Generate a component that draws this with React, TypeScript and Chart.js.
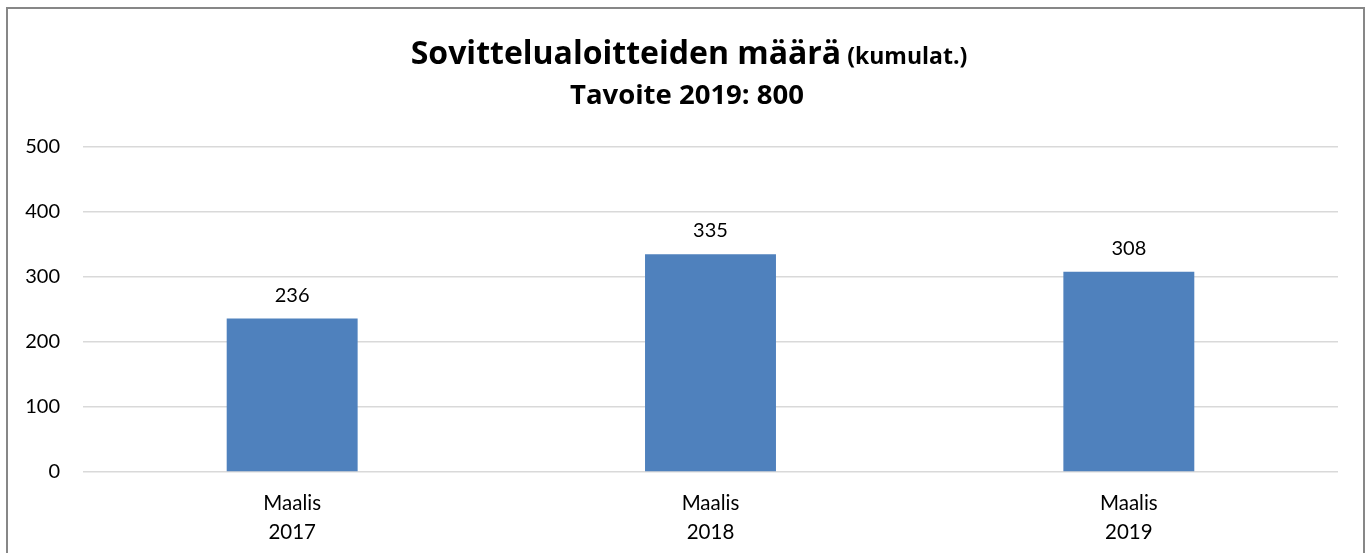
import React, { useEffect, useRef } from "react";
import { Chart, registerables } from "chart.js";

Chart.register(...registerables);

const categories: string[][] = [["Maalis", "2017"], ["Maalis", "2018"], ["Maalis", "2019"]];
const values: number[] = [236, 335, 308];
const titleMain = "Sovittelualoitteiden määrä";
const titleSuffix = " (kumulat.)";
const subtitle = "Tavoite 2019: 800";
const yMin = 0;
const yMax = 500;
const yStep = 100;

const FONT = "Lato, 'Open Sans', sans-serif";
const TFONT = "'Open Sans', Lato, sans-serif";

const framePlugin = {
  id: "frameAndTitle",
  beforeDraw(chart: any) {
    const ctx = chart.ctx;
    ctx.save();
    ctx.fillStyle = "#ffffff";
    ctx.fillRect(0, 0, chart.width, chart.height);
    ctx.strokeStyle = "#878787";
    ctx.lineWidth = 2;
    ctx.strokeRect(7, 8, 1357, 600);
    ctx.restore();
  },
  afterDraw(chart: any) {
    const ctx = chart.ctx;
    ctx.save();
    ctx.fillStyle = "#000000";
    ctx.textBaseline = "alphabetic";
    const cx = 689;
    ctx.font = `bold 32px ${TFONT}`;
    const w1 = ctx.measureText(titleMain).width;
    ctx.font = `bold 23px ${TFONT}`;
    const w2 = ctx.measureText(titleSuffix).width;
    const start = cx - (w1 + w2) / 2;
    ctx.textAlign = "left";
    ctx.font = `bold 32px ${TFONT}`;
    ctx.fillText(titleMain, start, 64);
    ctx.font = `bold 23px ${TFONT}`;
    ctx.fillText(titleSuffix, start + w1, 64);
    ctx.textAlign = "center";
    ctx.font = `bold 27.5px ${TFONT}`;
    ctx.fillText(subtitle, 687, 104);

    // data labels
    const meta = chart.getDatasetMeta(0);
    ctx.font = `20px ${FONT}`;
    ctx.textAlign = "center";
    meta.data.forEach((bar: any, i: number) => {
      ctx.fillText(String(chart.data.datasets[0].data[i]), bar.x, bar.y - 17);
    });
    ctx.restore();
  },
};

export default function App() {
  const ref = useRef<HTMLCanvasElement>(null);
  useEffect(() => {
    if (!ref.current) return;
    const chart = new Chart(ref.current, {
      type: "bar",
      data: {
        labels: categories,
        datasets: [
          {
            data: values,
            backgroundColor: "#4F81BD",
            borderWidth: 0,
            barPercentage: 0.313,
            categoryPercentage: 1,
          },
        ],
      },
      options: {
        animation: false,
        responsive: false,
        maintainAspectRatio: false,
        layout: { padding: { left: 0, right: 33, top: 147, bottom: 0 } },
        plugins: { legend: { display: false }, tooltip: { enabled: false }, title: { display: false } },
        scales: {
          x: {
            grid: { display: false },
            border: { display: false },
            ticks: {
              color: "#000",
              font: { family: FONT, size: 20.5, lineHeight: 1.42 },
              padding: 9,
              maxRotation: 0,
            },
            afterFit: (s: any) => {
              s.height = 81;
            },
          },
          y: {
            min: yMin,
            max: yMax,
            grid: { color: "#d9d9d9", lineWidth: 1.5, drawTicks: false },
            border: { display: false },
            ticks: { stepSize: yStep, color: "#000", font: { family: FONT, size: 20 }, padding: 23 },
            afterFit: (s: any) => {
              s.width = 83;
            },
          },
        },
      },
      plugins: [framePlugin],
    });
    return () => chart.destroy();
  }, []);
  return (
    <div style={{ position: "absolute", left: 0, top: 0, width: 1371, height: 553 }}>
      <canvas ref={ref} width={1371} height={553} style={{ display: "block", width: 1371, height: 553 }} />
    </div>
  );
}
